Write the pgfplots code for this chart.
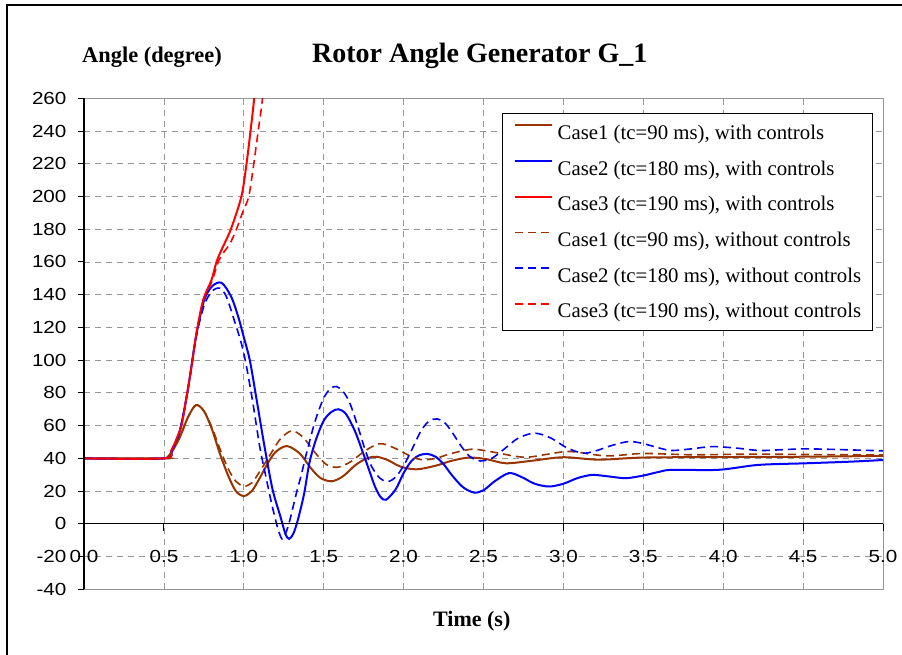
\documentclass[border=0pt]{standalone}
\usepackage{pgfplots}
\pgfplotsset{compat=1.18}
\usepackage{fontspec}
\setmainfont{Liberation Serif}
\newfontfamily\arial{Liberation Sans}
\definecolor{cbrown}{RGB}{153,51,0}
\definecolor{gridgray}{RGB}{150,150,150}
\begin{document}
\begin{tikzpicture}[x=1pt,y=1pt]
\useasboundingbox (0,0) rectangle (902,655);
\draw[black, line width=1.2pt] (7,0) -- (7,650) -- (902,650);
\node[anchor=base west, inner sep=0, font=\bfseries\fontsize{28}{32}\selectfont] at (312,592) {Rotor Angle Generator G\_1};
\node[anchor=base west, inner sep=0, font=\bfseries\fontsize{22.4}{26}\selectfont] at (82,592) {Angle (degree)};
\node[anchor=base west, inner sep=0, font=\bfseries\fontsize{22}{26}\selectfont] at (433,28) {Time (s)};
\begin{axis}[
 at={(84pt,65.7pt)}, anchor=south west,
 width=799pt, height=491pt, scale only axis,
 xmin=0, xmax=5, ymin=-40, ymax=260,
 xtick={0,0.5,1,1.5,2,2.5,3,3.5,4,4.5,5},
 xticklabels={0.0,0.5,1.0,1.5,2.0,2.5,3.0,3.5,4.0,4.5,5.0},
 ytick={-40,-20,0,20,40,60,80,100,120,140,160,180,200,220,240,260},
 yticklabels={-40,-20,0,20,40,60,80,100,120,140,160,180,200,220,240,260},
 major tick length=0pt,
 grid=major,
 grid style={gridgray, dash pattern=on 6pt off 5pt, line width=0.8pt},
 axis line style={gridgray, line width=0.9pt},
 xticklabel style={font=\arial\fontsize{17.5}{20}\selectfont, inner sep=0pt, anchor=center, yshift=33pt, xscale=1.18},
 yticklabel style={font=\arial\fontsize{17.5}{20}\selectfont, inner sep=0pt, anchor=east, xshift=-17.3pt, xscale=1.18},
 legend style={at={(0.9875,0.970)}, anchor=north east, draw=black, line width=0.8pt, fill=white,
   font=\fontsize{20.8}{24}\selectfont, inner xsep=11.5pt, inner ysep=10pt,
   nodes={inner sep=0pt, text height=16pt, text depth=2pt},
   row sep=17.7pt, column sep=5pt, cells={anchor=west}},
 legend image code/.code={\draw[#1] (0pt,7pt) -- (37pt,7pt);},
 solidline/.style={line width=2pt, smooth},
 dashline/.style={line width=1.6pt, smooth, dash pattern=on 8pt off 5pt},
]
% Case1 with controls
\addplot[solidline, cbrown] coordinates {
(0,40) (0.5,40) (0.52,40.5) (0.55,44) (0.6,53) (0.65,65) (0.7,72.5) (0.75,69) (0.8,58) (0.85,43)
(0.9,30) (0.95,20) (1.0,17) (1.05,20) (1.1,28) (1.15,37) (1.2,44) (1.27,47.5) (1.35,43) (1.42,34)
(1.48,28) (1.55,26) (1.62,29) (1.7,36) (1.77,40) (1.83,41) (1.9,39) (1.98,35) (2.08,33.3) (2.2,35.5)
(2.3,38.5) (2.41,40.5) (2.52,39.5) (2.64,37) (2.8,38.5) (3.0,40.7) (3.22,39.2) (3.5,40.5) (4.0,40.8)
(4.5,41) (5.0,41.5)};
\addlegendentry{Case1 (tc=90 ms), with controls}
% Case2 with controls
\addplot[solidline, blue] coordinates {
(0,40) (0.5,40) (0.55,45) (0.6,57) (0.65,82) (0.7,114) (0.75,136) (0.8,145) (0.86,147.3) (0.92,139)
(0.965,126.6) (1.0,114) (1.0375,100) (1.08,76) (1.13,47) (1.18,21) (1.229,4.5) (1.26,-6) (1.283,-9.2)
(1.31,-6) (1.34,3) (1.378,18.7) (1.41,37) (1.45,51) (1.5,63) (1.55,68.5) (1.594,70) (1.64,67)
(1.694,57) (1.74,45) (1.78,34) (1.82,23) (1.855,16.5) (1.89,14.7) (1.95,21) (2.0,31) (2.05,38.5)
(2.1,42) (2.15,42.7) (2.2,41) (2.25,36.5) (2.3,30) (2.37,22.5) (2.44,19.1) (2.5,20.5) (2.57,26)
(2.66,31) (2.74,28.5) (2.82,24.5) (2.91,22.8) (3.0,24.5) (3.09,28) (3.18,29.9) (3.28,29) (3.39,27.9)
(3.5,29.5) (3.6,31.8) (3.68,33) (3.97,33) (4.22,36) (4.52,37) (4.8,38) (5.0,39)};
\addlegendentry{Case2 (tc=180 ms), with controls}
% Case3 with controls
\addplot[solidline, red] coordinates {
(0,40) (0.5,40) (0.548,45.2) (0.6,57) (0.621,65.5) (0.673,96) (0.704,116.5) (0.746,136.8)
(0.798,149) (0.829,160) (0.86,167.3) (0.919,180) (0.985,200) (1.017,220) (1.042,240) (1.065,260)
(1.09,290)};
\addlegendentry{Case3 (tc=190 ms), with controls}
% Case1 without controls
\addplot[dashline, cbrown] coordinates {
(0,40) (0.5,40) (0.52,40.5) (0.55,44) (0.6,53) (0.65,65) (0.7,72.5) (0.75,69) (0.8,59) (0.85,46)
(0.9,34) (0.95,26) (1.0,23) (1.05,25) (1.1,32) (1.17,43) (1.23,52) (1.3,56.8) (1.37,53) (1.45,43)
(1.52,36) (1.59,34.6) (1.67,38) (1.75,44) (1.82,48) (1.87,48.9) (1.95,46) (2.05,41) (2.12,39.1)
(2.2,40) (2.3,43) (2.43,45.6) (2.55,44) (2.75,40.7) (2.9,42.5) (3.04,44.2) (3.27,41.5) (3.5,43)
(3.8,42.2) (4.2,42.6) (4.6,42.3) (5.0,42.1)};
\addlegendentry{Case1 (tc=90 ms), without controls}
% Case2 without controls
\addplot[dashline, blue] coordinates {
(0,40) (0.5,40) (0.55,45) (0.6,57) (0.65,82) (0.7,113) (0.75,133) (0.8,142) (0.85,144) (0.89,139)
(0.933,126.6) (0.996,106) (1.05,78) (1.1,47) (1.14,28) (1.175,12) (1.205,0) (1.22,-5) (1.24,-9.2)
(1.265,-5) (1.2875,2) (1.329,18.7) (1.36,30) (1.392,43) (1.444,62) (1.496,76) (1.54,82.5)
(1.579,83.9) (1.62,81) (1.6625,74) (1.714,59.4) (1.76,45) (1.8,35) (1.85,28) (1.90,25.8)
(1.95,28.5) (2.0,35.5) (2.05,45) (2.11,57) (2.16,62.8) (2.21,64.1) (2.26,61.5) (2.31,55)
(2.36,47.5) (2.41,41.5) (2.46,38.8) (2.50,38.5) (2.56,40.5) (2.64,46.5) (2.72,52.5) (2.82,55.4)
(2.92,52.5) (3.02,46.5) (3.12,43.2) (3.2,44.5) (3.3,47.8) (3.41,50.3) (3.5,49) (3.6,46.3)
(3.68,44.8) (3.8,45.8) (3.93,47.2) (4.08,46.3) (4.225,44.8) (4.37,45.3) (4.52,45.8) (4.75,45.3)
(5.0,44.6)};
\addlegendentry{Case2 (tc=180 ms), without controls}
% Case3 without controls
\addplot[dashline, red] coordinates {
(0,40) (0.5,40) (0.548,45.2) (0.6,57) (0.621,65.5) (0.673,96) (0.704,116.5) (0.746,136.5)
(0.8,148) (0.84,160) (0.875,166) (0.9125,171) (0.954,180) (0.995,191) (1.031,200) (1.0625,220)
(1.09,240) (1.117,260) (1.14,290)};
\addlegendentry{Case3 (tc=190 ms), without controls}
\end{axis}
% axis lines and tick marks (Excel style: x axis crosses at 0)
\draw[black, line width=1pt] (84,131.17) -- (883,131.17);
\draw[black, line width=1.3pt] (84,65.7) -- (84,556.7);
\foreach \i in {0,...,10} {\draw[black, line width=1pt] ({84+79.9*\i},131.17) -- ++(0,-7);}
\foreach \j in {0,...,15} {\draw[black, line width=1pt] (84,{65.7+32.733*\j}) -- ++(-6,0);}
\end{tikzpicture}
\end{document}
